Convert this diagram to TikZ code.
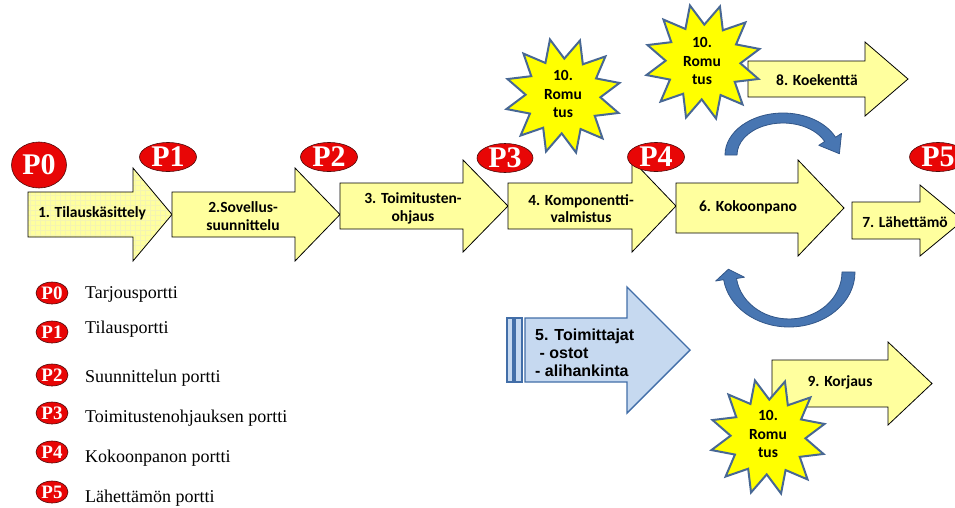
\documentclass[tikz,border=0pt]{standalone}
\usepackage{fontspec}
\setmainfont{Liberation Serif}
\newfontfamily\calfont{Carlito}
\newfontfamily\arialfont{Liberation Sans}
\usetikzlibrary{shapes.geometric}

\definecolor{boxfill}{RGB}{255,255,158}
\definecolor{gridtint}{RGB}{244,244,178}
\definecolor{gatered}{RGB}{232,6,6}
\definecolor{gateline}{RGB}{80,10,10}
\definecolor{burstfill}{RGB}{255,255,0}
\definecolor{burstline}{RGB}{72,104,148}
\definecolor{supplyfill}{RGB}{198,217,240}
\definecolor{supplyline}{RGB}{66,110,168}
\definecolor{loopfill}{RGB}{72,118,178}
\definecolor{loopline}{RGB}{50,86,136}

% block arrow: #1 left x, #2 top y, #3 bottom y, #4 head start x, #5 tip x, #6 head overhang, #7 style
\newcommand\blockarrow[7]{%
  \path[#7] (#1,#2) -- (#4,#2) -- (#4,#2-#6) -- (#5,{(#2+#3)/2}) -- (#4,#3+#6) -- (#4,#3) -- (#1,#3) -- cycle;}

\tikzset{
  box/.style={fill=boxfill, draw=black, line width=0.8pt, line join=miter},
  boxline/.style={draw=black, line width=0.8pt, line join=miter},
  boxtext/.style={font=\calfont\bfseries\fontsize{15.5}{17.5}\selectfont, align=center, inner sep=0pt},
  gate/.style={ellipse, fill=gatered, draw=gateline, line width=0.6pt, inner sep=0pt},
  gatetext/.style={text=white, font=\bfseries\fontsize{30}{30}\selectfont, inner sep=0pt},
  keygate/.style={gate, minimum width=32pt, minimum height=22pt},
  keygatetext/.style={text=white, font=\bfseries\fontsize{19}{19}\selectfont, inner sep=0pt},
  keytext/.style={anchor=base west, font=\fontsize{18}{20}\selectfont, inner sep=0pt},
  burst/.style={star, star points=12, star point ratio=1.55, minimum size=116pt, inner sep=0pt,
    fill=burstfill, draw=burstline, line width=2pt, line join=miter, shape border rotate=13},
  bursttext/.style={font=\calfont\bfseries\fontsize{15.5}{18.5}\selectfont, align=center, inner sep=0pt},
  supply/.style={fill=supplyfill, draw=supplyline, line width=1.4pt, line join=miter},
  supplytext/.style={anchor=west, font=\arialfont\bfseries\fontsize{16}{18}\selectfont, align=left, inner sep=0pt},
  loop/.style={fill=loopfill, draw=loopline, line width=0.8pt, line join=round},
}

\begin{document}
\begin{tikzpicture}[x=1pt,y=-1pt]
\useasboundingbox (0,0) rectangle (955,507);

% main process chain
\blockarrow{28}{192}{237}{133}{172}{24}{fill=boxfill}
\begin{scope}
  \clip (28,192) -- (133,192) -- (133,168) -- (172,214.5) -- (133,261) -- (133,237) -- (28,237) -- cycle;
  \draw[gridtint, line width=0.3pt, step=5pt] (20,270) grid (180,160);
\end{scope}
\blockarrow{28}{192}{237}{133}{172}{24}{boxline}
\blockarrow{172}{192}{237}{295}{340}{24}{box}
\blockarrow{340}{183}{229}{463}{508}{23}{box}
\blockarrow{508}{183}{229}{632}{676}{23}{box}
\blockarrow{676}{183}{233}{798}{844}{23}{box}
\blockarrow{852}{202}{239}{920}{963}{17}{box}
\blockarrow{748}{61}{97}{865}{908}{19}{box}
\blockarrow{772}{360}{407}{888}{932}{18}{box}

\node[boxtext] (t1) at (92,213) {1. Tilauskäsittely};
\node[boxtext] (t2) at (243,216) {2.Sovellus-\\suunnittelu};
\node[boxtext] (t3) at (413,208.5) {3. Toimitusten-\\ohjaus};
\node[boxtext] (t4) at (581,208.5) {4. Komponentti-\\valmistus};
\node[boxtext] (t6) at (748,207) {6. Kokoonpano};
\node[boxtext] (t7) at (905,222) {7. Lähettämö};
\node[boxtext] (t8) at (817,80) {8. Koekenttä};
\node[boxtext] (t9) at (840,382) {9. Korjaus};

% suppliers arrow
\draw[supply] (507,318) rectangle (513,382);
\draw[supply] (515,318) rectangle (522,382);
\blockarrow{525}{318}{382}{627}{690}{31}{supply}
\node[supplytext] (t5) at (535,353) {5. Toimittajat\\\hspace*{0.28em}- ostot\\- alihankinta};

% loop arrows around assembly
\path[loop] (725,155) arc[start angle=180, end angle=335, x radius=58, y radius=42]
  -- (841.5,133.4) -- (839.4,153.7) -- (818.8,145.3) -- (824.7,141.5)
  arc[start angle=335, end angle=180, x radius=46, y radius=32] -- cycle;
\path[loop] (855,272) arc[start angle=0, end angle=172, x radius=66, y radius=55]
  -- (715.7,281.0) -- (728.4,269.2) -- (744.4,277.2) -- (736.5,278.5)
  arc[start angle=172, end angle=0, x radius=53, y radius=47] -- cycle;

% scrapping bursts
\node[burst] (s1) at (563,96) {};
\node[bursttext] (s1t) at (563,94) {10.\\Romu\\tus};
\node[burst] (s2) at (703,62) {};
\node[bursttext] (s2t) at (702,61) {10.\\Romu\\tus};
\node[burst] (s3) at (768,437) {};
\node[bursttext] (s3t) at (768,434) {10.\\Romu\\tus};

% gates
\node[gate, minimum width=55pt, minimum height=46pt] (p0) at (39,165) {};
\node[gatetext] (p0t) at (p0) {P0};
\node[gate, minimum width=57pt, minimum height=29pt] (p1) at (168,157) {};
\node[gatetext] (p1t) at (p1) {P1};
\node[gate, minimum width=57pt, minimum height=29pt] (p2) at (329,157) {};
\node[gatetext] (p2t) at (p2) {P2};
\node[gate, minimum width=56pt, minimum height=29pt] (p3) at (505,158) {};
\node[gatetext] (p3t) at (p3) {P3};
\node[gate, minimum width=57pt, minimum height=29pt] (p4) at (656,157) {};
\node[gatetext] (p4t) at (p4) {P4};
\node[gate, minimum width=57pt, minimum height=29pt] (p5) at (938,157) {};
\node[gatetext] (p5t) at (p5) {P5};

% legend
\node[keygate] (k0) at (52,293) {};
\node[keygatetext] (k0t) at (k0) {P0};
\node[keytext] (l0) at (85,298) {Tarjousportti};
\node[keygate] (k1) at (52,332) {};
\node[keygatetext] (k1t) at (k1) {P1};
\node[keytext] (l1) at (85,333) {Tilausportti};
\node[keygate] (k2) at (52,375) {};
\node[keygatetext] (k2t) at (k2) {P2};
\node[keytext] (l2) at (85,382) {Suunnittelun portti};
\node[keygate] (k3) at (52,413) {};
\node[keygatetext] (k3t) at (k3) {P3};
\node[keytext] (l3) at (85,422) {Toimitustenohjauksen portti};
\node[keygate] (k4) at (52,452) {};
\node[keygatetext] (k4t) at (k4) {P4};
\node[keytext] (l4) at (85,462) {Kokoonpanon portti};
\node[keygate] (k5) at (52,492) {};
\node[keygatetext] (k5t) at (k5) {P5};
\node[keytext] (l5) at (85,502) {Lähettämön portti};
\end{tikzpicture}
\end{document}
